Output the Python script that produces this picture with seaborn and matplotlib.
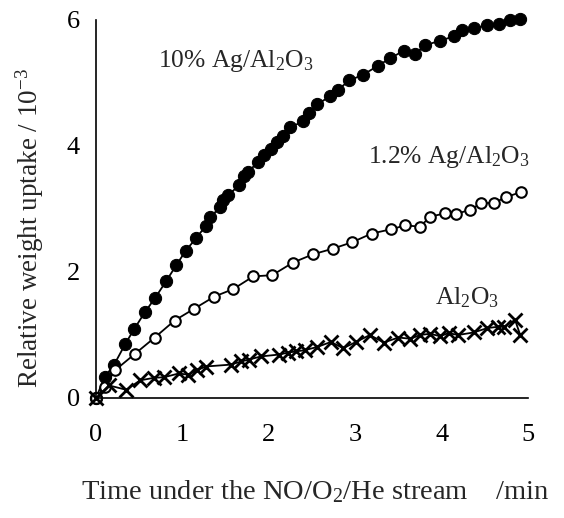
import matplotlib
matplotlib.use("Agg")
import matplotlib.pyplot as plt
import seaborn as sns
import pandas as pd

# ---- data ----
t_10 = [0, 0.10, 0.21, 0.34, 0.44, 0.57, 0.68, 0.81, 0.93, 1.04, 1.16, 1.27, 1.32, 1.44, 1.47,
        1.53, 1.66, 1.71, 1.76, 1.88, 1.94, 2.03, 2.09, 2.16, 2.25, 2.40, 2.46, 2.56, 2.71, 2.80,
        2.93, 3.09, 3.26, 3.40, 3.56, 3.69, 3.81, 3.98, 4.14, 4.24, 4.38, 4.53, 4.67, 4.79, 4.91]
w_10 = [0, 0.33, 0.53, 0.86, 1.09, 1.37, 1.58, 1.85, 2.11, 2.34, 2.54, 2.73, 2.87, 3.03, 3.14,
        3.22, 3.38, 3.52, 3.59, 3.75, 3.86, 3.96, 4.07, 4.16, 4.30, 4.39, 4.53, 4.66, 4.79, 4.89,
        5.04, 5.13, 5.27, 5.39, 5.51, 5.46, 5.60, 5.67, 5.74, 5.84, 5.87, 5.92, 5.94, 6.00, 6.01]

t_12 = [0, 0.10, 0.22, 0.45, 0.68, 0.91, 1.14, 1.37, 1.59, 1.82, 2.04, 2.28, 2.51, 2.74, 2.96,
        3.19, 3.42, 3.58, 3.75, 3.87, 4.04, 4.17, 4.33, 4.46, 4.61, 4.75, 4.92]
w_12 = [0, 0.18, 0.44, 0.70, 0.96, 1.23, 1.42, 1.61, 1.73, 1.93, 1.95, 2.15, 2.28, 2.37, 2.47,
        2.61, 2.68, 2.74, 2.72, 2.88, 2.93, 2.92, 2.99, 3.09, 3.10, 3.19, 3.27]

t_al = [0, 0.15, 0.35, 0.51, 0.67, 0.79, 0.96, 1.06, 1.17, 1.27, 1.56, 1.68, 1.77, 1.91, 2.12,
        2.22, 2.32, 2.42, 2.56, 2.72, 2.86, 3.01, 3.17, 3.33, 3.50, 3.64, 3.75, 3.87, 3.98, 4.08,
        4.19, 4.37, 4.53, 4.65, 4.72, 4.85, 4.91]
w_al = [0, 0.20, 0.13, 0.28, 0.32, 0.33, 0.39, 0.37, 0.44, 0.50, 0.53, 0.58, 0.61, 0.66, 0.69,
        0.72, 0.74, 0.76, 0.81, 0.89, 0.79, 0.89, 1.00, 0.88, 0.96, 0.94, 1.00, 1.02, 0.98, 1.03,
        1.00, 1.04, 1.11, 1.13, 1.13, 1.24, 1.00]

x_ticks = [0, 1, 2, 3, 4, 5]
y_ticks = [0, 2, 4, 6]

label_10 = r"10% Ag/Al$_2$O$_3$"
label_12 = r"1.2% Ag/Al$_2$O$_3$"
label_al = r"Al$_2$O$_3$"
x_label = r"Time under the NO/O$_2$/He stream    /min"
y_label = r"Relative weight uptake / 10$^{-3}$"

# ---- style ----
sns.set_style("white")
plt.rcParams["font.family"] = ["Liberation Serif", "DejaVu Serif"]
plt.rcParams["mathtext.fontset"] = "custom"
plt.rcParams["mathtext.rm"] = "Liberation Serif"
plt.rcParams["mathtext.it"] = "Liberation Serif:italic"
plt.rcParams["mathtext.bf"] = "Liberation Serif:bold"
plt.rcParams["mathtext.default"] = "rm"

fig = plt.figure(figsize=(5.64, 5.18), dpi=100)
ax = fig.add_axes([96 / 564, 1 - 398 / 518, 432 / 564, 378 / 518])

lw = 1.3
sns.lineplot(x=t_10, y=w_10, ax=ax, color="black", lw=lw, marker="o", markersize=8.8,
             markerfacecolor="black", markeredgecolor="black", sort=False, clip_on=False)
sns.lineplot(x=t_12, y=w_12, ax=ax, color="black", lw=lw, marker="o", markersize=7.6,
             markerfacecolor="white", markeredgecolor="black", markeredgewidth=1.5,
             sort=False, clip_on=False)
sns.lineplot(x=t_al, y=w_al, ax=ax, color="black", lw=lw, marker="x", markersize=9.5,
             markeredgecolor="black", markerfacecolor="black", markeredgewidth=2.0,
             sort=False, clip_on=False)

ax.set_xlim(0, 5)
ax.set_ylim(0, 6)
ax.set_xticks(x_ticks)
ax.set_yticks(y_ticks)
ax.set_xticklabels([str(v) for v in x_ticks])
ax.set_yticklabels([str(v) for v in y_ticks])

for s in ["top", "right"]:
    ax.spines[s].set_visible(False)
for s in ["left", "bottom"]:
    ax.spines[s].set_color("black")
    ax.spines[s].set_linewidth(1.2)

ax.tick_params(axis="both", direction="inout", length=11, width=1.0, color="black",
               labelsize=19, labelcolor="black")
ax.tick_params(axis="x", pad=13)
ax.tick_params(axis="y", pad=6)

ax.text(0.72, 5.26, label_10, fontsize=18.4, ha="left", va="baseline")
ax.text(3.15, 3.73, label_12, fontsize=18.4, ha="left", va="baseline")
ax.text(3.92, 1.48, label_al, fontsize=18.4, ha="left", va="baseline")

fig.text(315 / 564, 1 - 492 / 518, x_label, fontsize=20.5, ha="center", va="center")
fig.text(30 / 564, 1 - 228 / 518, y_label, fontsize=19.5, ha="center", va="center",
         rotation=90)

ax.set_xlabel("")
ax.set_ylabel("")

fig.savefig("out.png", dpi=100, facecolor="white")
